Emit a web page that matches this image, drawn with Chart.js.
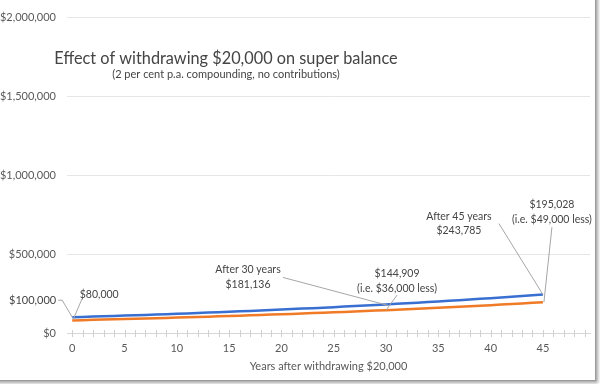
<!DOCTYPE html>
<html>
<head>
<meta charset="utf-8">
<title>Effect of withdrawing $20,000 on super balance</title>
<script src="https://cdn.jsdelivr.net/npm/chart.js@4/dist/chart.umd.min.js"></script>
<style>
  body { margin: 0; background: #fff; overflow: hidden; }
  #wrap { position: relative; width: 600px; height: 384px; }
  #frame {
    position: absolute; left: -10px; top: -10px; width: 604px; height: 389px;
    border: 1px solid #9a9a9a; box-shadow: 2px 2px 3px rgba(0,0,0,0.35);
    pointer-events: none;
  }
</style>
</head>
<body>
<div id="wrap">
  <canvas id="chart" width="600" height="384"></canvas>
  <div id="frame"></div>
</div>
<script>
// Chart data
const years = [0, 1, 2, 3, 4, 5, 6, 7, 8, 9, 10, 11, 12, 13, 14, 15, 16, 17, 18, 19, 20,
  21, 22, 23, 24, 25, 26, 27, 28, 29, 30, 31, 32, 33, 34, 35, 36, 37, 38, 39, 40,
  41, 42, 43, 44, 45];

const balanceKept = [100000, 102000, 104040, 106121, 108243, 110408, 112616, 114869,
  117166, 119509, 121899, 124337, 126824, 129361, 131948, 134587, 137279, 140024,
  142825, 145681, 148595, 151567, 154598, 157690, 160844, 164061, 167342, 170689,
  174102, 177584, 181136, 184759, 188454, 192223, 196068, 199989, 203989, 208069,
  212230, 216474, 220804, 225220, 229724, 234319, 239005, 243785];

const balanceWithdrawn = [80000, 81600, 83232, 84897, 86595, 88326, 90093, 91895,
  93733, 95607, 97520, 99470, 101459, 103489, 105559, 107670, 109823, 112019,
  114260, 116545, 118876, 121254, 123678, 126152, 128675, 131249, 133874, 136551,
  139282, 142067, 144909, 147807, 150763, 153778, 156854, 159991, 163191, 166455,
  169784, 173179, 176643, 180176, 183779, 187455, 191204, 195028];

const yTickValues = [0, 500000, 1000000, 1500000, 2000000];
const xTickValues = [0, 1, 2, 3, 4, 5, 6, 7, 8, 9, 10, 11, 12, 13, 14, 15, 16, 17, 18, 19,
  20, 21, 22, 23, 24, 25, 26, 27, 28, 29, 30, 31, 32, 33, 34, 35, 36, 37, 38, 39,
  40, 41, 42, 43, 44, 45, 46, 47, 48, 49];

const titleText = 'Effect of withdrawing $20,000 on super balance';
const subtitleText = '(2 per cent p.a. compounding, no contributions)';
const xAxisTitle = 'Years after withdrawing $20,000';

// Callout labels: which point they point to, text, and pixel offsets from that point
const callouts = [
  { ds: 0, i: 0, lines: ['$100,000'], align: 'right', font: 11, tx: -16, ty: [-17],
    leader: [[-14, -17], [-10, -17], [0, 0]] },
  { ds: 1, i: 0, lines: ['$80,000'], align: 'center', font: 10.5, tx: 27, ty: [-26],
    leader: [[10, -22], [1, -1]] },
  { ds: 0, i: 30, lines: ['After 30 years', '$181,136'], align: 'center', font: 10.5, tx: -138, ty: [-35, -20],
    leader: [[-103, -27], [2, 1]] },
  { ds: 1, i: 30, lines: ['$144,909', '(i.e. $36,000 less)'], align: 'center', font: 10.5, tx: 11, ty: [-37, -22],
    leader: [[11, -15], [0, 0]] },
  { ds: 0, i: 45, lines: ['After 45 years', '$243,785'], align: 'center', font: 10.5, tx: -84, ty: [-78, -64],
    leader: [[-44, -71], [0, 0]] },
  { ds: 1, i: 45, lines: ['$195,028', '(i.e. $49,000 less)'], align: 'center', font: 10.5, tx: 9, ty: [-98, -83],
    leader: [[9, -75], [1, 0]] }
];

const FONT = 'Lato, "Open Sans", sans-serif';
const TEXT_COLOR = '#444';

function money(v) {
  return '$' + Number(v).toLocaleString('en-US');
}

const calloutPlugin = {
  id: 'callouts',
  afterDatasetsDraw(chart) {
    const ctx = chart.ctx;
    const area = chart.chartArea;
    const xs = chart.scales.x;

    ctx.save();

    // tick marks crossing the x axis line
    ctx.strokeStyle = '#d0d0d0';
    ctx.lineWidth = 1;
    xs.ticks.forEach(t => {
      const px = Math.round(xs.getPixelForValue(t.value)) + 0.5;
      ctx.beginPath();
      ctx.moveTo(px, area.bottom - 3);
      ctx.lineTo(px, area.bottom + 4);
      ctx.stroke();
    });

    // title inside the plot
    ctx.fillStyle = TEXT_COLOR;
    ctx.textAlign = 'center';
    ctx.textBaseline = 'middle';
    ctx.font = '16.3px ' + FONT;
    ctx.fillText(titleText, area.left + 159, area.top + 41);
    ctx.font = '11px ' + FONT;
    ctx.fillText(subtitleText, area.left + 159, area.top + 57);

    // callouts
    callouts.forEach(c => {
      const pt = chart.getDatasetMeta(c.ds).data[c.i];
      const px = pt.x, py = pt.y;

      ctx.strokeStyle = '#a6a6a6';
      ctx.lineWidth = 1;
      ctx.beginPath();
      c.leader.forEach((p, k) => {
        if (k === 0) ctx.moveTo(px + p[0], py + p[1]);
        else ctx.lineTo(px + p[0], py + p[1]);
      });
      ctx.stroke();

      ctx.fillStyle = TEXT_COLOR;
      ctx.textAlign = c.align;
      ctx.font = c.font + 'px ' + FONT;
      c.lines.forEach((line, k) => {
        ctx.fillText(line, px + c.tx, py + c.ty[k]);
      });
    });

    ctx.restore();
  }
};

const ctx = document.getElementById('chart').getContext('2d');
new Chart(ctx, {
  type: 'line',
  data: {
    datasets: [
      {
        label: 'Balance without withdrawal',
        data: years.map((y, i) => ({ x: y, y: balanceKept[i] })),
        borderColor: '#3a6fd2',
        borderWidth: 2.5,
        pointRadius: 0,
        fill: false,
        tension: 0
      },
      {
        label: 'Balance after withdrawing $20,000',
        data: years.map((y, i) => ({ x: y, y: balanceWithdrawn[i] })),
        borderColor: '#f07a26',
        borderWidth: 2.5,
        pointRadius: 0,
        fill: false,
        tension: 0
      }
    ]
  },
  options: {
    responsive: false,
    animation: false,
    layout: { padding: { top: 17, right: 10, left: 0, bottom: 0 } },
    plugins: {
      legend: { display: false },
      title: { display: false },
      tooltip: { enabled: false }
    },
    scales: {
      x: {
        type: 'linear',
        min: -0.5,
        max: 49.5,
        afterFit: s => { s.height = 51; },
        afterBuildTicks: s => { s.ticks = xTickValues.map(v => ({ value: v })); },
        ticks: {
          autoSkip: false,
          maxRotation: 0,
          padding: 9,
          color: '#595959',
          font: { family: FONT, size: 11 },
          callback: v => (v % 5 === 0 ? String(v) : '')
        },
        grid: { display: true, drawOnChartArea: false, drawTicks: false },
        border: { display: true, color: '#d6d6d6' },
        title: {
          display: true,
          text: xAxisTitle,
          color: '#595959',
          font: { family: FONT, size: 11 },
          padding: { top: 0, bottom: 11 }
        }
      },
      y: {
        min: 0,
        max: 2000000,
        afterFit: s => { s.width = 67; },
        afterBuildTicks: s => { s.ticks = yTickValues.map(v => ({ value: v })); },
        ticks: {
          padding: 11,
          color: '#595959',
          font: { family: FONT, size: 11 },
          callback: v => money(v)
        },
        grid: { color: '#e6e6e6', drawTicks: false },
        border: { display: false }
      }
    }
  },
  plugins: [calloutPlugin]
});
</script>
</body>
</html>
